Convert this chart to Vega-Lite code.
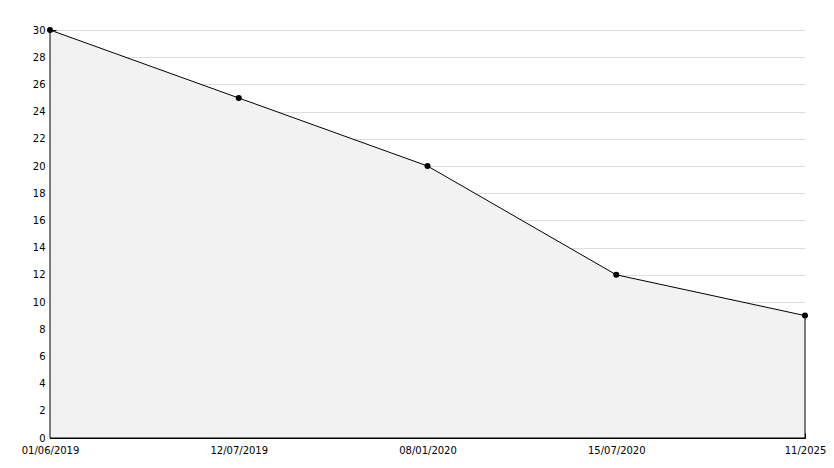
{
  "$schema": "https://vega.github.io/schema/vega-lite/v6.json",
  "width": 755,
  "height": 408,
  "autosize": {"type": "none"},
  "padding": {"left": 50, "top": 30, "right": 29, "bottom": 30},
  "background": "white",
  "config": {
    "view": {"stroke": null},
    "axis": {"labelFont": "DejaVu Sans", "labelFontSize": 10, "labelColor": "black", "domainColor": "black", "tickColor": "black", "titleFont": "DejaVu Sans"}
  },
  "data": {"values": [
    {"date": "01/06/2019", "value": 30},
    {"date": "12/07/2019", "value": 25},
    {"date": "08/01/2020", "value": 20},
    {"date": "15/07/2020", "value": 12},
    {"date": "11/2025", "value": 9}
  ]},
  "encoding": {
    "x": {"field": "date", "type": "ordinal", "sort": null, "scale": {"type": "point", "padding": 0},
      "axis": {"title": null, "labelAngle": 0, "tickSize": -5, "labelPadding": 12, "grid": false, "domainWidth": 1}},
    "y": {"field": "value", "type": "quantitative", "scale": {"domain": [0, 30], "nice": false},
      "axis": {"title": null, "values": [0,1,2,3,4,5,6,7,8,9,10,11,12,13,14,15,16,17,18,19,20,21,22,23,24,25,26,27,28,29,30],
        "labelExpr": "datum.value % 2 === 0 ? datum.label : ''",
        "tickSize": {"condition": {"test": "datum.value % 2 === 0", "value": -6}, "value": -3},
        "labelPadding": 11,
        "grid": true, "gridColor": "#dddddd",
        "gridOpacity": {"condition": {"test": "datum.value % 2 === 0", "value": 1}, "value": 0}}}
  },
  "layer": [
    {"mark": {"type": "area", "color": "#f2f2f2", "stroke": "black", "strokeWidth": 1}},
    {"mark": {"type": "point", "filled": true, "color": "black", "size": 36, "opacity": 1}}
  ]
}
